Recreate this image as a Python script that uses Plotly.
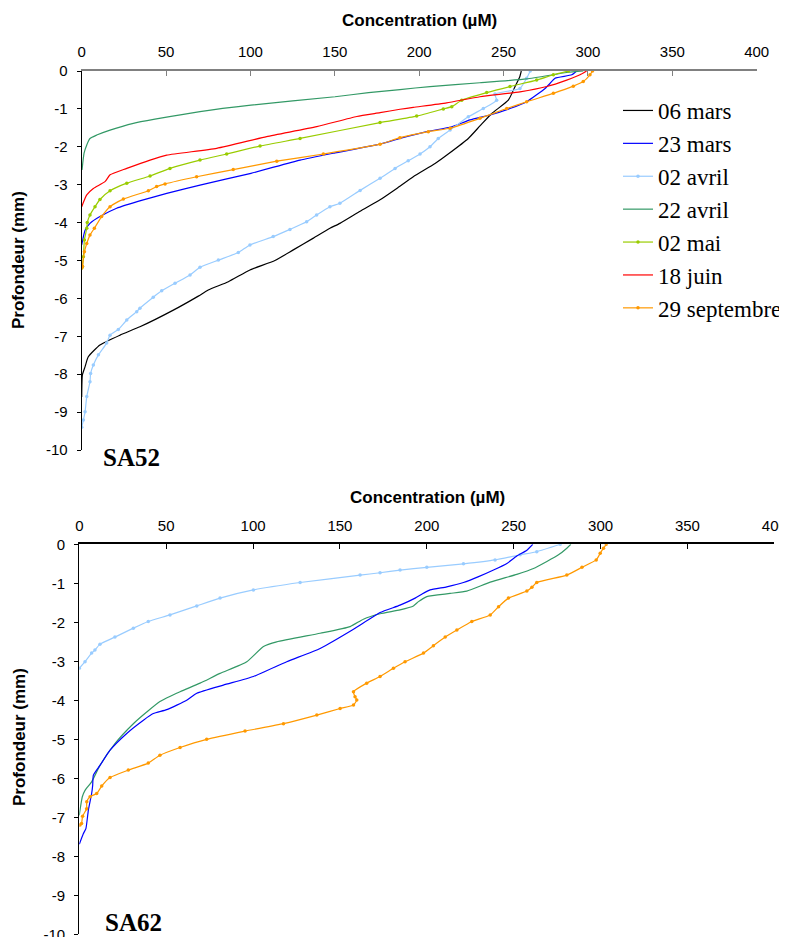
import plotly.graph_objects as go

# ---------------- DATA ----------------
series_names = ["06 mars", "23 mars", "02 avril", "22 avril", "02 mai", "18 juin", "29 septembre"]
x_ticks = [0, 50, 100, 150, 200, 250, 300, 350, 400]
y_ticks = [0, -1, -2, -3, -4, -5, -6, -7, -8, -9, -10]
y_tick_labels = ["0", "-1", "-2", "-3", "-4", "-5", "-6", "-7", "-8", "-9", "-10"]

# SA52
sa52_06mars_conc = [260.5, 259.6, 256.8, 252.8, 243, 236, 229.1, 217.2, 209.4, 196.5, 186.7, 176.8, 165, 153, 147.1, 137.3, 125.4, 114.5, 99.7, 86.9, 75, 69.1, 54.3, 34.5, 22.7, 10.8, 3.9, 2, 0.4, 0]
sa52_06mars_depth = [0, -0.15, -0.41, -0.77, -1.12, -1.45, -1.78, -2.19, -2.44, -2.79, -3.1, -3.4, -3.7, -4.02, -4.15, -4.41, -4.72, -5.0, -5.25, -5.56, -5.78, -5.94, -6.31, -6.75, -6.97, -7.23, -7.54, -7.8, -8.02, -8.6]

sa52_23mars_conc = [293.3, 290.4, 280.5, 277.5, 274.6, 263.7, 253.8, 242, 230.1, 219.3, 204.4, 188.6, 176.8, 150.1, 129.4, 100.3, 70.1, 50.4, 36.5, 20.7, 10.8, 4.9, 2, 0]
sa52_23mars_depth = [0, -0.1, -0.19, -0.33, -0.46, -0.81, -0.99, -1.16, -1.29, -1.47, -1.6, -1.78, -1.93, -2.16, -2.35, -2.7, -3.01, -3.23, -3.4, -3.62, -3.84, -4.02, -4.2, -4.59]

sa52_02avril_conc = [265.8, 263.7, 259.7, 244.9, 245.9, 238, 229.1, 218.3, 211.3, 206.4, 200.5, 193.5, 185.7, 176.8, 165, 153, 147.1, 139.2, 133.3, 123.4, 113.5, 99.7, 92.8, 81, 70.1, 64.2, 55.3, 47.4, 42.4, 34.5, 32.6, 26.7, 21.7, 16.8, 14.8, 9.9, 6.9, 5.3, 4.9, 3, 2, 1, 0]
sa52_02avril_depth = [0, -0.19, -0.46, -0.61, -0.77, -0.99, -1.21, -1.56, -1.78, -2.0, -2.19, -2.37, -2.57, -2.83, -3.15, -3.49, -3.58, -3.8, -3.98, -4.18, -4.37, -4.59, -4.79, -4.99, -5.18, -5.38, -5.6, -5.8, -5.97, -6.26, -6.35, -6.57, -6.82, -6.97, -7.18, -7.49, -7.76, -7.98, -8.2, -8.59, -8.99, -9.21, -9.4]

sa52_22avril_conc = [297.2, 287.4, 263.7, 236, 206.4, 188.6, 170, 150.1, 100.3, 70.1, 43.4, 30.6, 16.8, 8.9, 4.9, 3, 1.4, 0.2]
sa52_22avril_depth = [0, -0.04, -0.21, -0.31, -0.41, -0.49, -0.57, -0.68, -0.9, -1.07, -1.27, -1.38, -1.56, -1.69, -1.78, -1.95, -2.17, -2.61]

sa52_02mai_conc = [288.4, 279.5, 269.6, 253.8, 240, 225.2, 219.3, 214.3, 198.5, 176.8, 129.4, 105.7, 85.9, 70.1, 52.3, 40.5, 26.7, 16.8, 10.8, 7.9, 4.9, 3.3, 3, 1.6, 1, 0.4, 0]
sa52_02mai_depth = [0, -0.1, -0.24, -0.41, -0.57, -0.77, -0.94, -1.0, -1.19, -1.36, -1.78, -1.98, -2.19, -2.35, -2.57, -2.77, -2.96, -3.16, -3.39, -3.58, -3.8, -4.0, -4.15, -4.46, -4.9, -5.16, -5.2]

sa52_18juin_conc = [299.2, 295.3, 287.4, 275.6, 259.7, 236, 216.3, 196.5, 188.6, 176.8, 163, 139.3, 109.6, 80, 50.4, 40.5, 26.7, 16.8, 13.8, 6.9, 3, 0]
sa52_18juin_depth = [0, -0.1, -0.24, -0.41, -0.55, -0.68, -0.84, -0.96, -1.01, -1.1, -1.2, -1.47, -1.73, -2.04, -2.22, -2.35, -2.57, -2.74, -2.92, -3.1, -3.27, -3.58]

sa52_29sept_conc = [302.7, 301.2, 297.2, 291.3, 279.5, 263.7, 251.9, 236, 218.3, 205.4, 188.6, 176.8, 143.2, 115.6, 89.8, 68.1, 49.4, 44.4, 39.5, 24.7, 16.8, 11.8, 7.5, 4.9, 3, 1.6, 0.4, 0]
sa52_29sept_depth = [0, -0.1, -0.28, -0.4, -0.59, -0.81, -0.99, -1.25, -1.51, -1.6, -1.76, -1.93, -2.19, -2.38, -2.6, -2.79, -2.98, -3.05, -3.16, -3.38, -3.58, -3.84, -4.15, -4.33, -4.55, -4.77, -5.15, -5.2]

# SA62
sa62_23mars_conc = [261, 257.6, 251.8, 246.1, 238.4, 229.8, 221.1, 211.5, 201.9, 197.1, 193.3, 184.6, 173.1, 157.8, 138.6, 119.4, 100.2, 82.9, 67.6, 61.8, 50.3, 42.6, 36.9, 27.3, 17.7, 11.9, 8.1, 7.7, 7.1, 5.2, 3.8, 2.3, 0]
sa62_23mars_depth = [0, -0.15, -0.3, -0.49, -0.66, -0.83, -0.98, -1.09, -1.17, -1.28, -1.38, -1.56, -1.75, -2.18, -2.67, -3.01, -3.39, -3.61, -3.82, -4.0, -4.24, -4.34, -4.51, -4.85, -5.28, -5.67, -5.92, -6.18, -6.39, -6.82, -7.29, -7.42, -7.69]

sa62_02avril_conc = [276.8, 263.3, 253.7, 239.3, 221.1, 200, 184.6, 173.1, 161.6, 127.1, 100.2, 81, 67.6, 52.2, 39.7, 31.1, 20.5, 11.9, 9, 7.1, 3.3, 0]
sa62_02avril_depth = [0, -0.19, -0.27, -0.4, -0.5, -0.59, -0.66, -0.73, -0.79, -0.98, -1.17, -1.38, -1.58, -1.81, -1.98, -2.15, -2.38, -2.56, -2.71, -2.79, -3.01, -3.18]

sa62_22avril_conc = [282.9, 280.6, 275.8, 269.1, 261.4, 251.8, 236.5, 223, 213.4, 200, 195.2, 192.3, 184.6, 173.1, 163.5, 155.9, 138.6, 113.6, 106, 96.4, 81, 69.5, 58, 46.4, 38.8, 31.1, 20.5, 11.9, 7.1, 3.3, 1.7, 0.4, 0]
sa62_22avril_depth = [0, -0.1, -0.27, -0.44, -0.62, -0.77, -0.97, -1.2, -1.26, -1.34, -1.47, -1.58, -1.68, -1.78, -1.92, -2.11, -2.28, -2.5, -2.62, -3.01, -3.31, -3.56, -3.78, -4.03, -4.3, -4.6, -5.11, -5.67, -6.09, -6.31, -6.48, -6.82, -6.95]

sa62_29sept_conc = [303.3, 301.7, 299.8, 297.5, 289.3, 280.6, 263.3, 260.5, 257.6, 247, 241.3, 236.5, 225.9, 217.3, 210.6, 203.8, 198.1, 187.5, 180.8, 173.1, 165.4, 157.8, 158.7, 159.7, 157.8, 150.1, 136.7, 117.5, 95.4, 73.3, 58, 46.4, 39.7, 28.2, 17.7, 12.9, 10, 6.2, 4.3, 4.2, 1.9, 1.3, 0.4]
sa62_29sept_depth = [0, -0.1, -0.23, -0.4, -0.59, -0.79, -0.98, -1.1, -1.2, -1.38, -1.6, -1.81, -1.98, -2.2, -2.38, -2.6, -2.79, -3.01, -3.18, -3.39, -3.56, -3.78, -3.91, -3.99, -4.12, -4.21, -4.38, -4.6, -4.79, -5.0, -5.21, -5.41, -5.61, -5.79, -5.98, -6.2, -6.39, -6.47, -6.6, -6.78, -6.97, -7.16, -7.2]

# ---------------- STYLE ----------------
colors = {
    "06 mars": "#000000",
    "23 mars": "#0000FF",
    "02 avril": "#99CCFF",
    "22 avril": "#339966",
    "02 mai": "#99CC00",
    "18 juin": "#FF0000",
    "29 septembre": "#FF9900",
}
with_markers = {"02 avril", "02 mai", "29 septembre"}

SANS = "Arial, 'Liberation Sans', sans-serif"
SERIF = "'Times New Roman', 'Liberation Serif', serif"

fig = go.Figure()


def add(name, conc, depth, panel, showlegend):
    mode = "lines+markers" if name in with_markers else "lines"
    fig.add_trace(go.Scatter(
        x=conc, y=depth, name=name, mode=mode,
        line=dict(color=colors[name], width=1.2, shape="spline", smoothing=0.5),
        marker=dict(size=3.5, color=colors[name]),
        xaxis="x" if panel == 1 else "x2",
        yaxis="y" if panel == 1 else "y2",
        showlegend=showlegend,
    ))


add("06 mars", sa52_06mars_conc, sa52_06mars_depth, 1, True)
add("23 mars", sa52_23mars_conc, sa52_23mars_depth, 1, True)
add("02 avril", sa52_02avril_conc, sa52_02avril_depth, 1, True)
add("22 avril", sa52_22avril_conc, sa52_22avril_depth, 1, True)
add("02 mai", sa52_02mai_conc, sa52_02mai_depth, 1, True)
add("18 juin", sa52_18juin_conc, sa52_18juin_depth, 1, True)
add("29 septembre", sa52_29sept_conc, sa52_29sept_depth, 1, True)

add("02 avril", sa62_02avril_conc, sa62_02avril_depth, 2, False)
add("22 avril", sa62_22avril_conc, sa62_22avril_depth, 2, False)
add("23 mars", sa62_23mars_conc, sa62_23mars_depth, 2, False)
add("29 septembre", sa62_29sept_conc, sa62_29sept_depth, 2, False)

# page offset (browser body margin) compensation
OFF = 8
W, H = 787 - OFF, 937 - OFF


def fx(p):
    return (p - OFF) / W


def fy(p):
    return 1 - (p - OFF) / H


def xaxis_cfg(domain, anchor, linecolor):
    return dict(
        domain=domain, anchor=anchor, side="top", range=[0, 400],
        tickvals=x_ticks, ticks="inside", ticklen=5, tickcolor=linecolor, tickwidth=1,
        showline=True, linecolor=linecolor, linewidth=1.5,
        showgrid=False, zeroline=False,
        tickfont=dict(size=15, family=SANS, color="black"),
        ticklabelstandoff=6,
    )


def yaxis_cfg(domain, anchor):
    return dict(
        domain=domain, anchor=anchor, range=[-10, 0],
        tickvals=y_ticks, ticktext=y_tick_labels,
        ticks="outside", ticklen=4, tickcolor="black",
        showline=True, linecolor="black", linewidth=1.2,
        showgrid=False, zeroline=False,
        tickfont=dict(size=15, family=SANS, color="black"),
        ticklabelstandoff=6, ticklabeloverflow="allow",
    )


top_x = [fx(81.7), fx(756.7)]
bot_x = [fx(79.3), fx(774.3)]
top_y = [fy(450), fy(71)]
bot_y = [max(fy(934.3), 0), fy(544.3)]


def label(text, px, py, size, family, angle=0):
    return dict(text=text, x=fx(px), y=fy(py), xref="paper", yref="paper",
                xanchor="center", yanchor="middle", showarrow=False, textangle=angle,
                font=dict(family=family, size=size, color="black"))


fig.update_layout(
    width=W, height=H,
    margin=dict(l=0, r=0, t=0, b=0, autoexpand=False),
    paper_bgcolor="white", plot_bgcolor="white",
    xaxis=xaxis_cfg(top_x, "y", "#808080"),
    yaxis=yaxis_cfg(top_y, "x"),
    xaxis2=xaxis_cfg(bot_x, "y2", "black"),
    yaxis2=yaxis_cfg(bot_y, "x2"),
    legend=dict(
        x=fx(618), y=fy(89), xanchor="left", yanchor="top",
        font=dict(family=SERIF, size=23, color="black"),
        bgcolor="rgba(0,0,0,0)", tracegroupgap=0,
    ),
    annotations=[
        label("<b>Concentration (µM)</b>", 419, 21, 17, SANS),
        label("<b>Concentration (µM)</b>", 427, 497, 17, SANS),
        label("<b>Profondeur (mm)</b>", 19, 260, 17, SANS, -90),
        label("<b>Profondeur (mm)</b>", 19, 737, 17, SANS, -90),
        label("<b>SA52</b>", 131, 457, 25, SERIF),
        label("<b>SA62</b>", 133, 922, 25, SERIF),
    ],
)

fig.write_html("out.html")
